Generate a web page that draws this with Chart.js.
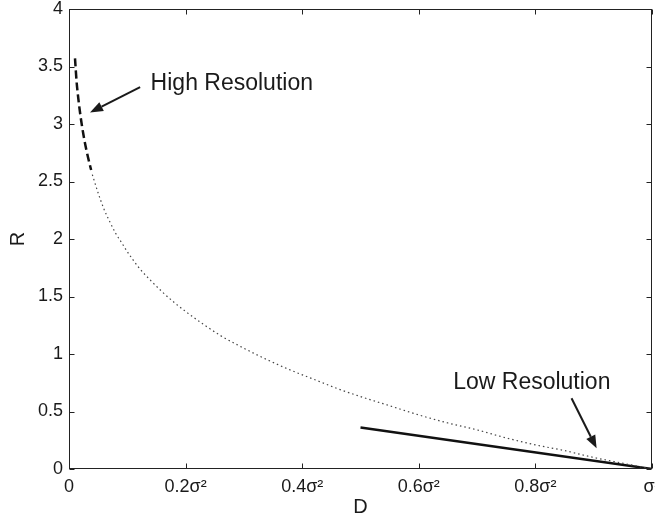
<!DOCTYPE html>
<html>
<head>
<meta charset="utf-8">
<script src="https://cdn.jsdelivr.net/npm/chart.js@4.4.1/dist/chart.umd.min.js"></script>
<style>
  html, body { margin: 0; padding: 0; background: #fff; overflow: hidden; }
  canvas { display: block; }
</style>
</head>
<body>
<canvas id="myChart" width="655" height="518"></canvas>
<script>
// values (D in units of sigma^2, R in bits)
const exactD = [0.04, 0.05, 0.06, 0.07, 0.08, 0.09, 0.10, 0.12, 0.14, 0.16, 0.18, 0.20, 0.23, 0.26, 0.30, 0.34, 0.38, 0.42, 0.46, 0.50, 0.55, 0.60, 0.65, 0.70, 0.75, 0.80, 0.85, 0.90, 0.95, 1.00];
const exactR = [2.56, 2.40, 2.26, 2.15, 2.05, 1.97, 1.89, 1.75, 1.64, 1.54, 1.45, 1.37, 1.26, 1.16, 1.05, 0.95, 0.86, 0.78, 0.70, 0.63, 0.55, 0.47, 0.40, 0.34, 0.27, 0.21, 0.16, 0.10, 0.05, 0.0];
const highResD = [0.0103, 0.013, 0.016, 0.020, 0.025, 0.030, 0.035, 0.038];
const highResR = [3.57, 3.37, 3.22, 3.06, 2.90, 2.77, 2.66, 2.60];
const lowResD = [0.5, 1.0];
const lowResR = [0.36, 0.0];

const tickValuesX = [0, 0.2, 0.4, 0.6, 0.8, 1];
const tickLabelsX = ["0", "0.2σ²", "0.4σ²", "0.6σ²", "0.8σ²", "σ²"];
const tickValuesY = [0, 0.5, 1, 1.5, 2, 2.5, 3, 3.5, 4];
const tickLabelsY = ["0", "0.5", "1", "1.5", "2", "2.5", "3", "3.5", "4"];

// annotation text + arrow (tail -> head), in data units
const notes = [
  { text: "High Resolution", at: [0.140, 3.30], tail: [0.122, 3.32], head: [0.036, 3.10] },
  { text: "Low Resolution", at: [0.659, 0.70], tail: [0.862, 0.615], head: [0.905, 0.18] },
];

const toPoints = (xs, ys) => xs.map((d, i) => ({ x: d, y: ys[i] }));
const FONT = "'Liberation Sans', Arial, Helvetica, sans-serif";

// matlab style box with inward ticks, plus the arrows
const framePlugin = {
  id: "frame",
  afterDraw(chart) {
    const { ctx, chartArea: a, scales: { x, y } } = chart;
    ctx.save();
    ctx.strokeStyle = "#222";
    ctx.lineWidth = 1;
    const L = Math.round(a.left) + 0.5, R = Math.round(a.right) - 0.5;
    const T = Math.round(a.top) + 0.5, B = Math.round(a.bottom) - 0.5;
    ctx.strokeRect(L, T, R - L, B - T);
    ctx.beginPath();
    tickValuesX.forEach(v => {
      const px = Math.round(x.getPixelForValue(v)) + 0.5;
      ctx.moveTo(px, B); ctx.lineTo(px, B - 5);
      ctx.moveTo(px, T); ctx.lineTo(px, T + 5);
    });
    tickValuesY.forEach(v => {
      const py = Math.round(y.getPixelForValue(v)) + 0.5;
      ctx.moveTo(L, py); ctx.lineTo(L + 5, py);
      ctx.moveTo(R, py); ctx.lineTo(R - 5, py);
    });
    ctx.stroke();

    ctx.fillStyle = "#1a1a1a";
    ctx.strokeStyle = "#1a1a1a";
    ctx.font = "23px " + FONT;
    ctx.textAlign = "left";
    ctx.textBaseline = "alphabetic";
    notes.forEach(n => {
      ctx.fillText(n.text, x.getPixelForValue(n.at[0]), y.getPixelForValue(n.at[1]));
      const x0 = x.getPixelForValue(n.tail[0]), y0 = y.getPixelForValue(n.tail[1]);
      const x1 = x.getPixelForValue(n.head[0]), y1 = y.getPixelForValue(n.head[1]);
      const ang = Math.atan2(y1 - y0, x1 - x0);
      const hl = 13, hw = 5;
      ctx.lineWidth = 2;
      ctx.beginPath();
      ctx.moveTo(x0, y0);
      ctx.lineTo(x1 - hl * Math.cos(ang), y1 - hl * Math.sin(ang));
      ctx.stroke();
      ctx.beginPath();
      ctx.moveTo(x1, y1);
      ctx.lineTo(x1 - hl * Math.cos(ang) + hw * Math.sin(ang), y1 - hl * Math.sin(ang) - hw * Math.cos(ang));
      ctx.lineTo(x1 - hl * Math.cos(ang) - hw * Math.sin(ang), y1 - hl * Math.sin(ang) + hw * Math.cos(ang));
      ctx.closePath();
      ctx.fill();
    });
    ctx.restore();
  },
};

const ctx = document.getElementById("myChart").getContext("2d");
const myChart = new Chart(ctx, {
  type: "scatter",
  data: {
    datasets: [
      {
        data: toPoints(exactD, exactR),
        showLine: true,
        borderColor: "#444",
        borderWidth: 1.2,
        borderDash: [1.5, 3],
        cubicInterpolationMode: "monotone",
        pointRadius: 0,
      },
      {
        data: toPoints(highResD, highResR),
        showLine: true,
        borderColor: "#111",
        borderWidth: 2.5,
        borderDash: [8, 4],
        cubicInterpolationMode: "monotone",
        pointRadius: 0,
      },
      {
        data: toPoints(lowResD, lowResR),
        showLine: true,
        borderColor: "#111",
        borderWidth: 2.5,
        pointRadius: 0,
      },
    ],
  },
  options: {
    responsive: false,
    animation: false,
    layout: { padding: { top: 9, right: 3, left: 0, bottom: 0 } },
    plugins: {
      legend: { display: false },
      tooltip: { enabled: false },
    },
    scales: {
      x: {
        type: "linear",
        min: 0,
        max: 1,
        grid: { display: false, drawTicks: false },
        border: { display: false },
        afterBuildTicks: (s) => { s.ticks = tickValuesX.map(v => ({ value: v })); },
        afterFit: (s) => { s.height = 49; s.paddingLeft = 0; s.paddingRight = 0; },
        ticks: {
          autoSkip: false,
          maxRotation: 0,
          padding: 7,
          color: "#1a1a1a",
          font: { family: FONT, size: 18 },
          callback: (v) => tickLabelsX[tickValuesX.indexOf(v)],
        },
        title: {
          display: true,
          text: "D",
          color: "#1a1a1a",
          font: { family: FONT, size: 20, lineHeight: 1.1 },
          padding: { top: 0, bottom: 0 },
        },
      },
      y: {
        type: "linear",
        min: 0,
        max: 4,
        grid: { display: false, drawTicks: false },
        border: { display: false },
        afterBuildTicks: (s) => { s.ticks = tickValuesY.map(v => ({ value: v })); },
        afterFit: (s) => { s.width = 69; s.paddingTop = 0; s.paddingBottom = 0; },
        ticks: {
          padding: 6,
          color: "#1a1a1a",
          font: { family: FONT, size: 18 },
          callback: (v) => tickLabelsY[tickValuesY.indexOf(v)],
        },
        title: {
          display: true,
          text: "R",
          color: "#1a1a1a",
          font: { family: FONT, size: 20, lineHeight: 1.1 },
          padding: { top: 7, bottom: 0 },
        },
      },
    },
  },
  plugins: [framePlugin],
});
</script>
</body>
</html>
